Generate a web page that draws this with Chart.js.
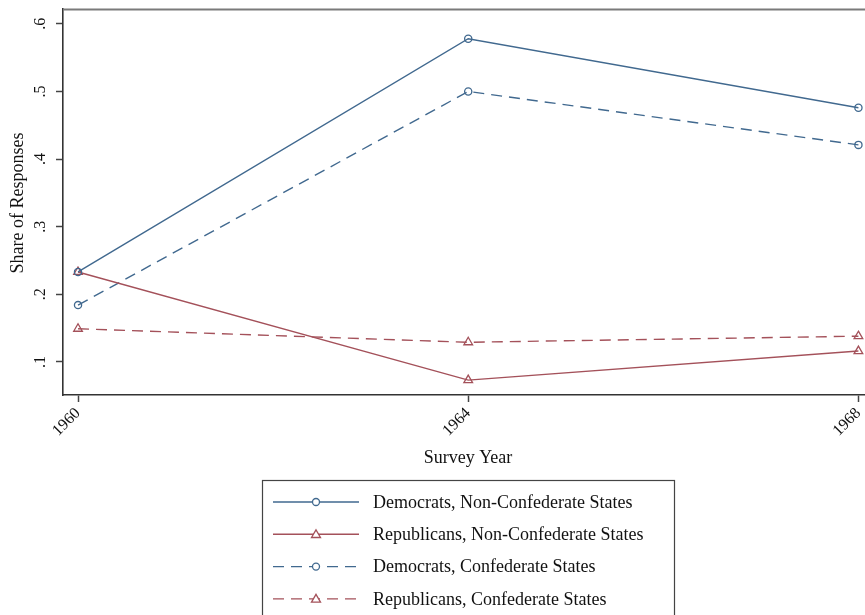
<!DOCTYPE html>
<html>
<head>
<meta charset="utf-8">
<script src="https://cdn.jsdelivr.net/npm/chart.js@4"></script>
<style>
  html, body { margin: 0; padding: 0; background: #fff; overflow: hidden; }
  canvas { display: block; }
</style>
</head>
<body>
<canvas id="chart" width="874" height="615"></canvas>
<script>
// survey years and response shares
var years = [1960, 1964, 1968];
var demNonConf = [0.233, 0.578, 0.476];
var repNonConf = [0.233, 0.073, 0.116];
var demConf = [0.184, 0.500, 0.421];
var repConf = [0.149, 0.129, 0.138];
var yTicks = [0.1, 0.2, 0.3, 0.4, 0.5, 0.6];
var yTickLabels = ['.1', '.2', '.3', '.4', '.5', '.6'];
var seriesNames = [
  'Democrats, Non-Confederate States',
  'Republicans, Non-Confederate States',
  'Democrats, Confederate States',
  'Republicans, Confederate States'
];

var blue = '#41698f';
var red = '#a4515a';
var serif = "'Liberation Serif', 'DejaVu Serif', serif";

function points(values) {
  return years.map(function (yr, i) { return { x: yr, y: values[i] }; });
}

function makeSet(label, values, color, dashed, marker) {
  return {
    label: label,
    data: points(values),
    borderColor: color,
    borderWidth: 1.4,
    borderDash: dashed ? [11, 7] : [],
    pointStyle: marker,
    pointRadius: marker === 'triangle' ? 5 : 3.6,
    pointBorderWidth: 1.3,
    pointBorderColor: color,
    pointBackgroundColor: 'rgba(255,255,255,0)',
    tension: 0,
    fill: false
  };
}

// legend drawn by hand so the marker sits in the middle of the line sample
function drawMarker(ctx, style, x, y, color) {
  ctx.save();
  ctx.setLineDash([]);
  ctx.strokeStyle = color;
  ctx.lineWidth = 1.3;
  ctx.fillStyle = '#fff';
  ctx.beginPath();
  if (style === 'triangle') {
    ctx.moveTo(x, y - 4.5);
    ctx.lineTo(x + 4.5, y + 3.2);
    ctx.lineTo(x - 4.5, y + 3.2);
    ctx.closePath();
  } else {
    ctx.arc(x, y, 3.5, 0, Math.PI * 2);
  }
  ctx.fill();
  ctx.stroke();
  ctx.restore();
}

var decorations = {
  id: 'decorations',
  afterDraw: function (chart) {
    var ctx = chart.ctx;
    var area = chart.chartArea;
    var yScale = chart.scales.y;

    // top frame line
    ctx.save();
    ctx.strokeStyle = '#7a7a7a';
    ctx.lineWidth = 2;
    ctx.beginPath();
    ctx.moveTo(area.left, 9.5);
    ctx.lineTo(chart.width, 9.5);
    ctx.stroke();

    // y tick labels, rotated
    ctx.fillStyle = '#111';
    ctx.font = '16px ' + serif;
    ctx.textAlign = 'center';
    ctx.textBaseline = 'middle';
    yTicks.forEach(function (v, i) {
      ctx.save();
      ctx.translate(41, yScale.getPixelForValue(v));
      ctx.rotate(-Math.PI / 2);
      ctx.fillText(yTickLabels[i], 0, 0);
      ctx.restore();
    });

    // axis titles
    ctx.font = '18px ' + serif;
    ctx.save();
    ctx.translate(18, (area.top + area.bottom) / 2 + 1);
    ctx.rotate(-Math.PI / 2);
    ctx.fillText('Share of Responses', 0, 0);
    ctx.restore();
    ctx.fillText('Survey Year', 468, 458);

    // legend box
    ctx.strokeStyle = '#444';
    ctx.lineWidth = 1.2;
    ctx.strokeRect(262.5, 480.5, 412, 160);

    var sets = chart.data.datasets;
    ctx.font = '18px ' + serif;
    ctx.textAlign = 'left';
    sets.forEach(function (ds, i) {
      var y = 502 + i * 32.3;
      ctx.save();
      ctx.strokeStyle = ds.borderColor;
      ctx.lineWidth = 1.4;
      ctx.setLineDash(ds.borderDash);
      ctx.beginPath();
      ctx.moveTo(273, y);
      ctx.lineTo(359, y);
      ctx.stroke();
      ctx.restore();
      drawMarker(ctx, ds.pointStyle, 316, y, ds.borderColor);
      ctx.fillStyle = '#111';
      ctx.fillText(ds.label, 373, y + 1);
    });
    ctx.restore();
  }
};

new Chart(document.getElementById('chart'), {
  type: 'line',
  data: {
    datasets: [
      makeSet(seriesNames[0], demNonConf, blue, false, 'circle'),
      makeSet(seriesNames[1], repNonConf, red, false, 'triangle'),
      makeSet(seriesNames[2], demConf, blue, true, 'circle'),
      makeSet(seriesNames[3], repConf, red, true, 'triangle')
    ]
  },
  options: {
    responsive: false,
    animation: false,
    layout: { autoPadding: false, padding: { top: 9, right: 0, bottom: 0, left: 0 } },
    plugins: {
      legend: { display: false },
      tooltip: { enabled: false }
    },
    scales: {
      x: {
        type: 'linear',
        min: 1959.846,
        max: 1968.06,
        afterBuildTicks: function (scale) {
          scale.ticks = years.map(function (v) { return { value: v }; });
        },
        afterFit: function (scale) { scale.height = 220; },
        ticks: {
          minRotation: 45,
          maxRotation: 45,
          padding: 2,
          color: '#111',
          font: { family: serif, size: 16 },
          callback: function (v) { return String(v); }
        },
        grid: { drawOnChartArea: false, drawTicks: true, tickLength: 7, color: '#444', tickWidth: 1.5 },
        border: { color: '#333', width: 1.6 }
      },
      y: {
        min: 0.051,
        max: 0.622,
        afterBuildTicks: function (scale) {
          scale.ticks = yTicks.map(function (v) { return { value: v }; });
        },
        afterFit: function (scale) { scale.width = 63; },
        ticks: { display: false },
        grid: { drawOnChartArea: false, drawTicks: true, tickLength: 7, color: '#444', tickWidth: 1.5 },
        border: { color: '#333', width: 1.6 }
      }
    }
  },
  plugins: [decorations]
});
</script>
</body>
</html>
